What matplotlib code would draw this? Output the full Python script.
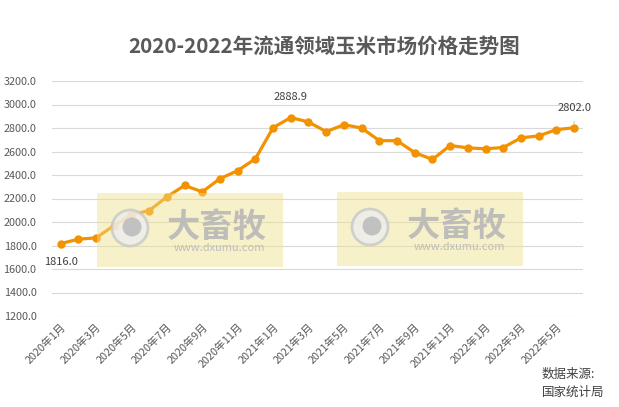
import numpy as np
import matplotlib
matplotlib.use('Agg')
from matplotlib import pyplot as plt
from matplotlib.patches import Rectangle, Circle

plt.rcParams['font.family'] = ['Noto Sans CJK SC', 'DejaVu Sans']

# monthly corn price, 2020-01 .. 2022-06
months = ['{}年{}月'.format(y, m) for y in (2020, 2021, 2022) for m in range(1, 13)][:30]
prices = [1816.0, 1854, 1865, 1968, 2062, 2097, 2214, 2311, 2257, 2369,
          2437, 2538, 2803, 2888.9, 2851, 2769, 2828, 2800, 2692, 2692,
          2591, 2532, 2651, 2631, 2623, 2634, 2716, 2733, 2786, 2802.0]
labelled = {0: 'below', 13: 'above', 29: 'above'}
yticks = np.arange(1200, 3201, 200)

W, H = 619, 407
fig = plt.figure(figsize=(W / 100, H / 100), dpi=100)
ax = fig.add_axes([51.8 / W, 1 - 316 / H, 531.1 / W, 235 / H])

x = np.arange(len(prices))
ax.plot(x, prices, color='#F39200', lw=2.3, marker='o', ms=5, zorder=3)
ax.set_xlim(-0.5, len(prices) - 0.5)
ax.set_ylim(1200, 3200)
ax.set_yticks(yticks)
ax.set_yticklabels(['{:.1f}'.format(v) for v in yticks])
ax.grid(axis='y', color='#D9D9D9', lw=0.8)
ax.set_axisbelow(True)
for s in ax.spines.values():
    s.set_visible(False)
ax.tick_params(length=0, colors='#595959', labelsize=7.8)
ax.tick_params(axis='y', pad=11)
ax.tick_params(axis='x', pad=4)
ax.set_xticks(x[::2])
ax.set_xticklabels(months[::2], rotation=45, ha='right', rotation_mode='anchor')

# data labels
for i, pos in labelled.items():
    txt = '{:.1f}'.format(prices[i])
    if pos == 'below':
        ax.annotate(txt, (x[i], prices[i]), xytext=(0, -13), textcoords='offset points',
                    ha='center', va='center', fontsize=8, color='#404040')
    elif i == len(prices) - 1:
        ax.annotate(txt, (x[i], prices[i]), xytext=(0, 14), textcoords='offset points',
                    ha='center', va='center', fontsize=8, color='#404040',
                    arrowprops=dict(arrowstyle='-', color='#A6A6A6', lw=0.6, shrinkA=4, shrinkB=3))
    else:
        ax.annotate(txt, (x[i], prices[i]), xytext=(0, 15), textcoords='offset points',
                    ha='center', va='center', fontsize=8, color='#404040')

fig.text(324 / W, 1 - 46 / H, '2020-2022年流通领域玉米市场价格走势图', ha='center', va='center',
         fontsize=14.8, fontweight='bold', color='#595959')
fig.text(542 / W, 1 - 383 / H, '数据来源:\n国家统计局', ha='left', va='center',
         fontsize=9, color='#404040', linespacing=1.5)

# watermarks
def px(xp, yp):
    return xp / W, 1 - yp / H

for x0, y0 in [(97, 193), (337, 192)]:
    fig.patches.append(Rectangle(px(x0, y0 + 74), 186 / W, 74 / H, transform=fig.transFigure,
                                 facecolor='#EFE08A', alpha=0.45, edgecolor='none', zorder=5))
    fig.patches.append(Circle((x0 + 33, H - y0 - 35), 18, transform=None, facecolor='#EEEEEE',
                              edgecolor='#C8C8C8', lw=2, alpha=0.8, zorder=6))
    fig.patches.append(Circle((x0 + 35, H - y0 - 34), 9.5, transform=None, facecolor='#BDBDBD',
                              edgecolor='none', alpha=0.9, zorder=6))
    fig.text(*px(x0 + 120, y0 + 34), '大畜牧', ha='center', va='center', fontsize=24,
             fontweight='bold', color='#B8B8B8', alpha=0.9, zorder=7)
    fig.text(*px(x0 + 122, y0 + 55), 'www.dxumu.com', ha='center', va='center', fontsize=8,
             color='#BDBDBD', zorder=7)

fig.savefig('out.png', dpi=100)
